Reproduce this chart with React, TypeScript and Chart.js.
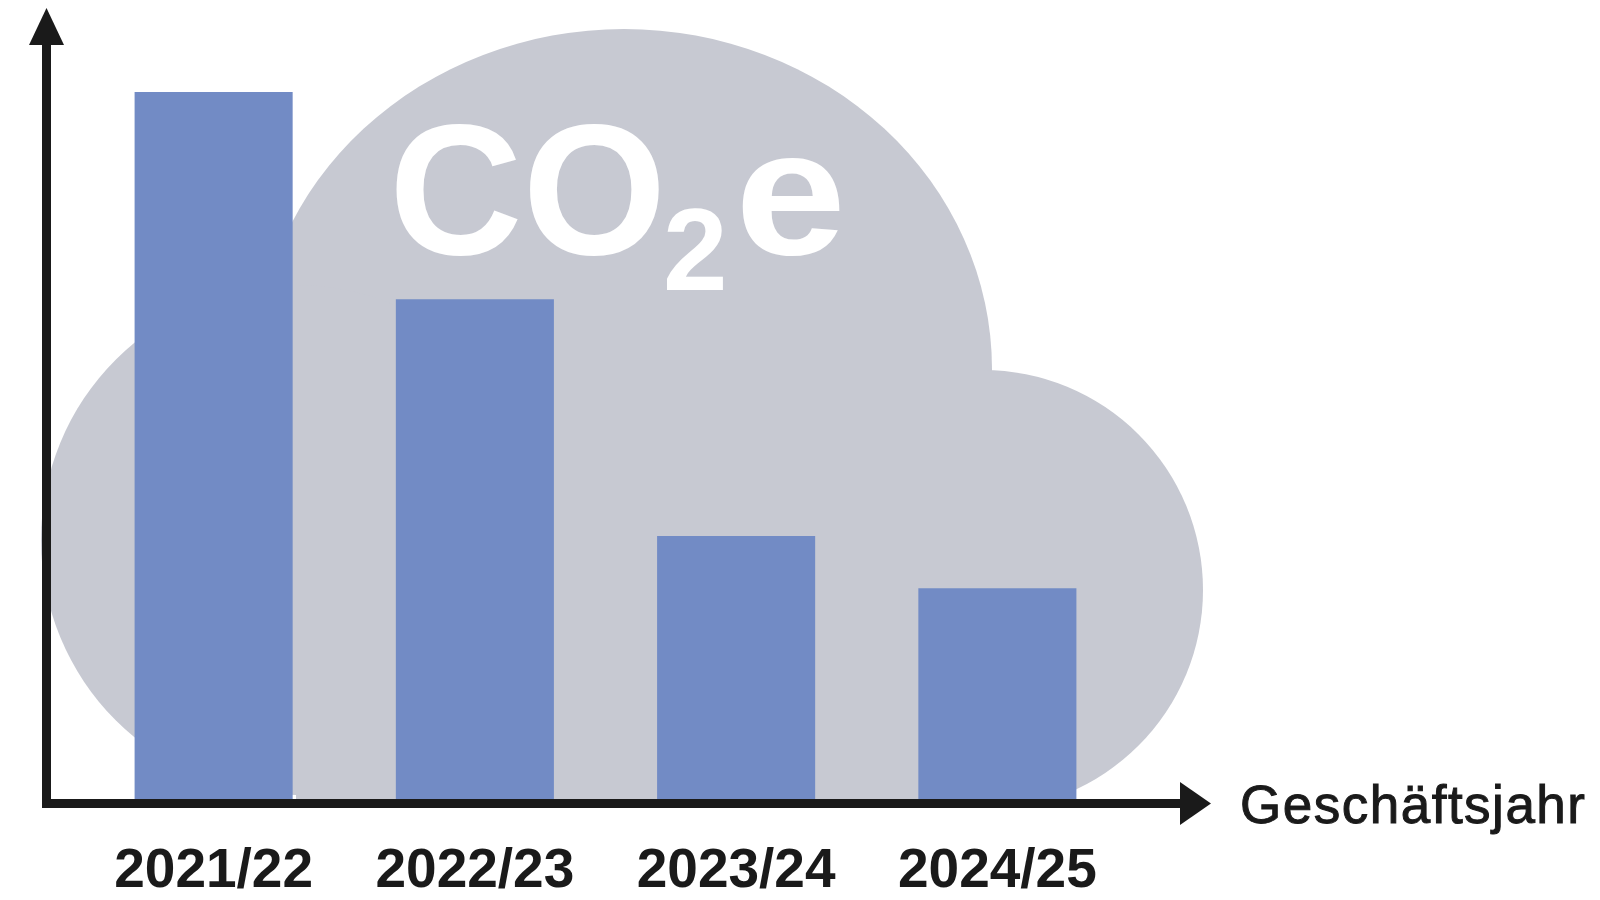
import React, { useEffect, useRef } from "react";
import { Chart, registerables } from "chart.js";

Chart.register(...registerables);

const categories = ["2021/22", "2022/23", "2023/24", "2024/25"];
const emissions = [100, 70.7, 37.2, 29.8];
const axisTitle = "Geschäftsjahr";
const cloudLabelMain = "CO";
const cloudLabelSub = "2";
const cloudLabelTail = "e";

const BAR = "#728BC5";
const CLOUD = "#C7C9D2";
const INK = "#1a1a1a";

const decorPlugin = {
  id: "decor",
  beforeDatasetsDraw(chart: any) {
    const ctx = chart.ctx;
    const area = chart.chartArea;
    ctx.save();
    ctx.beginPath();
    ctx.rect(0, 0, chart.width, area.bottom);
    ctx.clip();
    ctx.fillStyle = CLOUD;
    ctx.beginPath();
    ctx.ellipse(624, 369, 368, 340, 0, 0, Math.PI * 2);
    ctx.fill();
    ctx.beginPath();
    ctx.arc(296, 540, 255, 0, Math.PI * 2);
    ctx.fill();
    ctx.beginPath();
    ctx.arc(983, 590, 220, 0, Math.PI * 2);
    ctx.fill();
    ctx.fillRect(296, 369, 983 - 296, area.bottom - 369);
    ctx.restore();

    // CO2e
    ctx.save();
    ctx.fillStyle = "#ffffff";
    ctx.textBaseline = "alphabetic";
    ctx.textAlign = "left";
    ctx.font = "bold 185px 'Liberation Sans', Arial, sans-serif";
    ctx.fillText(cloudLabelMain, 389, 254);
    ctx.save();
    ctx.translate(735, 254);
    ctx.scale(1.08, 0.96);
    ctx.fillText(cloudLabelTail, 0, 0);
    ctx.restore();
    ctx.font = "bold 116px 'Liberation Sans', Arial, sans-serif";
    ctx.fillText(cloudLabelSub, 663, 290);
    ctx.restore();
  },
  afterDatasetsDraw(chart: any) {
    const ctx = chart.ctx;
    const area = chart.chartArea;
    const xs = chart.scales.x;
    ctx.save();
    ctx.fillStyle = INK;
    // y axis
    ctx.fillRect(42, 45, 9, area.bottom + 9 - 45);
    ctx.beginPath();
    ctx.moveTo(29, 45);
    ctx.lineTo(64, 45);
    ctx.lineTo(46.5, 8);
    ctx.closePath();
    ctx.fill();
    // x axis
    ctx.fillRect(42, area.bottom, 1180 - 42, 9);
    ctx.beginPath();
    ctx.moveTo(1180, 782);
    ctx.lineTo(1180, 825);
    ctx.lineTo(1211, 803.5);
    ctx.closePath();
    ctx.fill();

    // category labels
    ctx.font = "bold 55px 'Liberation Sans', Arial, sans-serif";
    ctx.textAlign = "center";
    ctx.textBaseline = "alphabetic";
    chart.data.labels.forEach((lab: string, i: number) => {
      ctx.fillText(lab, xs.getPixelForValue(i), 887);
    });

    // axis title
    ctx.textAlign = "left";
    ctx.font = "53px 'Liberation Sans', Arial, sans-serif";
    (ctx as any).letterSpacing = "1.5px";
    ctx.strokeStyle = INK;
    ctx.lineWidth = 1;
    ctx.fillText(axisTitle, 1240, 823);
    ctx.strokeText(axisTitle, 1240, 823);
    (ctx as any).letterSpacing = "0px";
    ctx.restore();
  },
};

export default function App() {
  const ref = useRef<HTMLCanvasElement>(null);
  useEffect(() => {
    document.body.style.margin = "0";
    const chart = new Chart(ref.current as HTMLCanvasElement, {
      type: "bar",
      data: {
        labels: categories,
        datasets: [
          {
            data: emissions,
            backgroundColor: BAR,
            borderWidth: 0,
            barPercentage: 0.605,
            categoryPercentage: 1,
          },
        ],
      },
      options: {
        animation: false,
        responsive: false,
        devicePixelRatio: 1,
        layout: { padding: { left: 83, right: 472, top: 92, bottom: 101 } },
        plugins: { legend: { display: false }, tooltip: { enabled: false } },
        scales: {
          x: { display: false, offset: true },
          y: { display: false, min: 0, max: 100 },
        },
      },
      plugins: [decorPlugin],
    });
    return () => chart.destroy();
  }, []);
  return (
    <div style={{ position: "absolute", left: 0, top: 0, width: 1600, height: 900, background: "#fff" }}>
      <canvas ref={ref} width={1600} height={900} style={{ width: 1600, height: 900 }} />
    </div>
  );
}
